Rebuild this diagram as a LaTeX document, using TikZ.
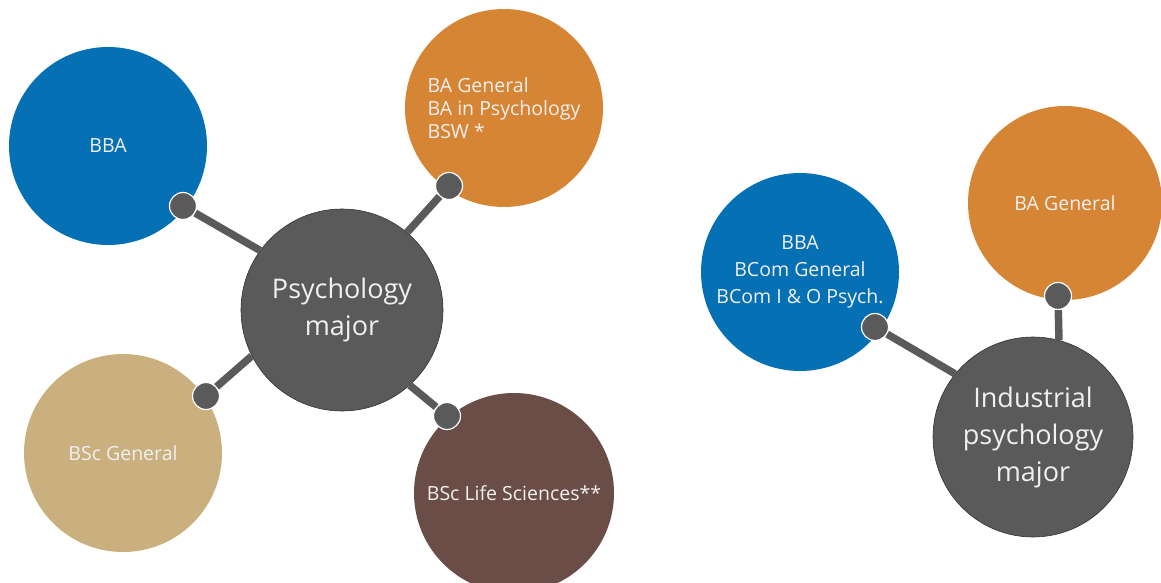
\documentclass[tikz,border=0pt]{standalone}
\usepackage{fontspec}
\setmainfont{Open Sans}
\usetikzlibrary{positioning}
\definecolor{degblue}{HTML}{0670B5}
\definecolor{degorange}{HTML}{D68535}
\definecolor{degtan}{HTML}{C9B07E}
\definecolor{degbrown}{HTML}{6A4D46}
\definecolor{majorgray}{HTML}{5A5A5A}

\begin{document}
\begin{tikzpicture}[x=1pt,y=-1pt]
    \tikzstyle{bubble}=[circle, minimum size=198pt, inner sep=0pt, text=white!94!black, align=center, font=\fontsize{19.5}{23}\selectfont]
    \tikzstyle{major}=[bubble, minimum size=202pt, fill=majorgray, draw=black!80, line width=0.6pt, font=\fontsize{27}{37}\selectfont]
    \tikzstyle{knob}=[circle, minimum size=27pt, inner sep=0pt, fill=majorgray, draw=white, line width=1.2pt]
    \tikzstyle{link}=[draw=majorgray, line width=7.5pt]

    \useasboundingbox (0,0) rectangle (1161,583);

    % Psychology major
    \node[bubble, fill=degblue] (bba) at (108,146) {BBA};
    \node[bubble, fill=degorange, align=left] (arts) at (504,108) {BA General\\BA in Psychology\\BSW *};
    \node[bubble, fill=degtan] (bsc) at (123,453) {BSc General};
    \node[bubble, fill=degbrown, minimum size=200pt] (life) at (514,493) {BSc Life Sciences**};
    \node[major] (psych) at (342,310) {Psychology\\major};

    \node[knob] (bba-k) at (183,206) {};
    \node[knob] (arts-k) at (449,186) {};
    \node[knob] (bsc-k) at (206,396) {};
    \node[knob] (life-k) at (447,416) {};

    \draw[link] (bba-k) -- (psych.144);
    \draw[link] (arts-k) -- (psych.50);
    \draw[link] (bsc-k) -- (psych.207);
    \draw[link] (life-k) -- (psych.312);

    % Industrial psychology major
    \node[bubble, fill=degblue, font=\fontsize{19.5}{27}\selectfont] (ibba) at (800,272) {BBA\\BCom General\\BCom I \& O Psych.};
    \node[bubble, fill=degorange, minimum size=194pt] (iarts) at (1065,203) {BA General};
    \node[major, minimum size=200pt] (ind) at (1033,437) {Industrial\\psychology\\major};

    \node[knob] (ibba-k) at (875,327) {};
    \node[knob] (iarts-k) at (1058,296) {};

    \draw[link] (ibba-k) -- (ind.141);
    \draw[link] (iarts-k) -- (ind.75.5);
\end{tikzpicture}
\end{document}
